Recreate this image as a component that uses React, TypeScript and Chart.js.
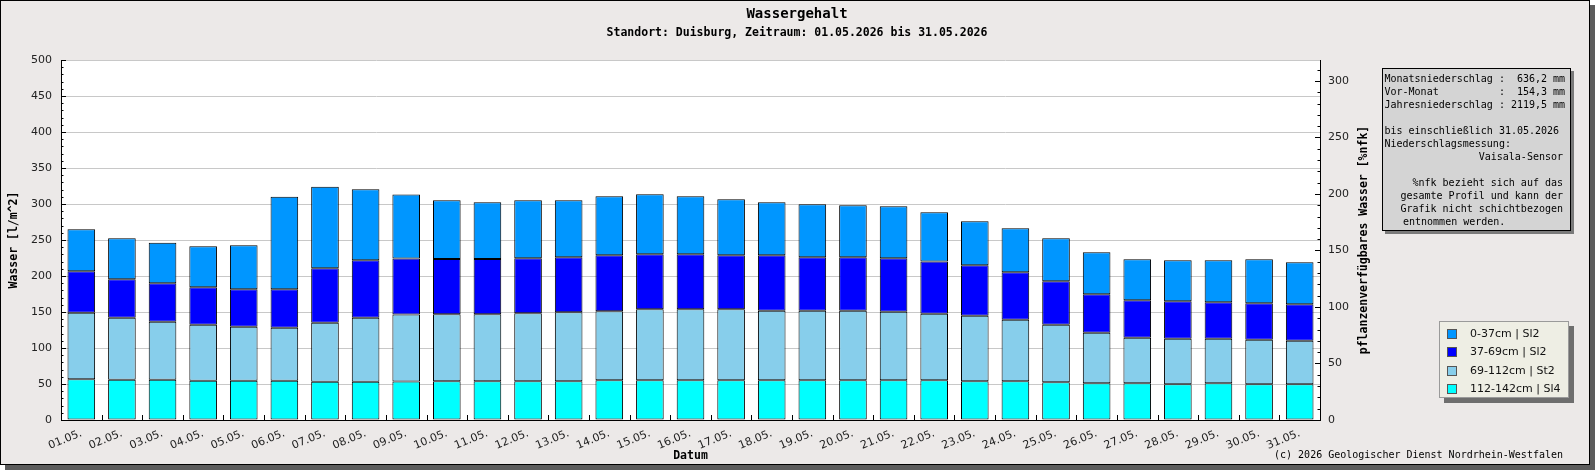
import React, { useEffect, useRef } from 'react';
import Chart from 'chart.js/auto';

// Tageswerte Mai 2026, Standort Duisburg (Wasser in l/m^2 je Schicht)
const dayLabels = [
  '01.05.', '02.05.', '03.05.', '04.05.', '05.05.', '06.05.', '07.05.', '08.05.',
  '09.05.', '10.05.', '11.05.', '12.05.', '13.05.', '14.05.', '15.05.', '16.05.',
  '17.05.', '18.05.', '19.05.', '20.05.', '21.05.', '22.05.', '23.05.', '24.05.',
  '25.05.', '26.05.', '27.05.', '28.05.', '29.05.', '30.05.', '31.05.',
];

const layer112to142 = [
  56.5, 56, 56, 54.6, 54.6, 54.6, 53.2, 53.2, 53.5, 53.7, 53.7, 53.7, 53.7, 55.1, 55.1, 55.1,
  55.1, 55.1, 55.1, 55.1, 55.1, 55.1, 53.7, 53.7, 52.3, 50.9, 50.9, 49.5, 50.9, 49.5, 49.5,
];
const layer69to112 = [
  92.5, 86.1, 80.6, 77.8, 75, 73.6, 82, 88.9, 93, 93.1, 93.1, 94.4, 95.8, 95.8, 98.6, 98.6,
  98.6, 96.8, 96.8, 96.8, 95.4, 92.6, 91.2, 85.7, 80.1, 70.4, 63.5, 63.5, 62.1, 62.1, 60.6,
];
const layer37to69 = [
  57.5, 53.3, 53.2, 51.9, 51.9, 53.3, 75.4, 79.7, 77.9, 76.8, 76.8, 76.4, 76.4, 77.8, 76.4, 76.4,
  75, 76.8, 74, 74, 74, 72.6, 69.9, 65.7, 60.2, 53.2, 51.8, 51.8, 50.4, 50.4, 50.5,
];
const layer0to37 = [
  58.5, 56.9, 56.5, 56.9, 61.1, 128.7, 113.4, 98.6, 88.9, 81.5, 78.7, 80.6, 79.2, 81.9, 83.3, 80.5,
  77.8, 73.6, 73.6, 72.2, 72.3, 68.1, 61.2, 61.1, 59.7, 58.4, 57, 57, 58.4, 61.2, 58.4,
];

const legendLabels = ['0-37cm | Sl2', '37-69cm | Sl2', '69-112cm | St2', '112-142cm | Sl4'];
const legendColors = ['#0096ff', '#0000ff', '#87ceeb', '#00ffff'];

const infoHead = [
  'Monatsniederschlag :  636,2 mm',
  'Vor-Monat          :  154,3 mm',
  'Jahresniederschlag : 2119,5 mm',
  '',
  'bis einschließlich 31.05.2026',
  'Niederschlagsmessung:',
];
const infoSensor = 'Vaisala-Sensor';
const infoNote = [
  '%nfk bezieht sich auf das',
  'gesamte Profil und kann der',
  'Grafik nicht schichtbezogen',
];
const infoNoteLast = 'entnommen werden.';

const MONO = '"DejaVu Sans Mono", monospace';
const SANS = '"DejaVu Sans", sans-serif';

const decor = {
  id: 'decor',
  beforeDraw(chart: any) {
    const { ctx, chartArea: a, width, height } = chart;
    ctx.save();
    ctx.fillStyle = '#ffffff';
    ctx.fillRect(0, 0, width, height);
    ctx.fillStyle = '#5c5c5c';
    ctx.fillRect(5, 5, width - 5, height - 5);
    ctx.fillStyle = '#ece9e8';
    ctx.fillRect(0, 0, width - 5, height - 5);
    ctx.strokeStyle = '#000';
    ctx.lineWidth = 1;
    ctx.strokeRect(0.5, 0.5, width - 6, height - 6);
    ctx.fillStyle = '#ffffff';
    ctx.fillRect(a.left, a.top, a.right - a.left, a.bottom - a.top);
    ctx.restore();
  },
  afterDraw(chart: any) {
    const { ctx, chartArea: a, scales } = chart;
    const y = scales.y;
    const y1 = scales.y1;
    const x = scales.x;
    ctx.save();
    ctx.strokeStyle = '#000';
    ctx.lineWidth = 1;

    // Striche an den Achsen (nach innen)
    ctx.beginPath();
    for (let v = 0; v <= 500; v += 10) {
      const py = Math.round(y.getPixelForValue(v)) + 0.5;
      const len = v % 50 === 0 ? 5 : 2.5;
      ctx.moveTo(a.left, py);
      ctx.lineTo(a.left + len, py);
    }
    for (let v = 0; v <= 310; v += 10) {
      const py = Math.round(y1.getPixelForValue(v)) + 0.5;
      const len = v % 50 === 0 ? 5 : 2.5;
      ctx.moveTo(a.right, py);
      ctx.lineTo(a.right - len, py);
    }
    const half = (x.getPixelForValue(1) - x.getPixelForValue(0)) / 2;
    for (let i = 1; i < dayLabels.length; i++) {
      const px = Math.round(x.getPixelForValue(i) - half) + 0.5;
      ctx.moveTo(px, a.bottom);
      ctx.lineTo(px, a.bottom - 5);
    }
    ctx.stroke();

    // Titel
    ctx.fillStyle = '#000';
    ctx.textAlign = 'center';
    ctx.textBaseline = 'middle';
    ctx.font = `bold 14px ${MONO}`;
    ctx.fillText('Wassergehalt', 797, 14);
    ctx.font = `bold 11.5px ${MONO}`;
    ctx.fillText('Standort: Duisburg, Zeitraum: 01.05.2026 bis 31.05.2026', 797, 33);

    // Achsentitel
    ctx.font = `bold 11.5px ${MONO}`;
    ctx.fillText('Datum', (a.left + a.right) / 2, 456);
    ctx.save();
    ctx.translate(14, (a.top + a.bottom) / 2);
    ctx.rotate(-Math.PI / 2);
    ctx.fillText('Wasser [l/m^2]', 0, 0);
    ctx.restore();
    ctx.save();
    ctx.translate(1364, (a.top + a.bottom) / 2);
    ctx.rotate(-Math.PI / 2);
    ctx.fillText('pflanzenverfügbares Wasser [%nfk]', 0, 0);
    ctx.restore();

    // Copyright
    ctx.font = `10px ${MONO}`;
    ctx.textAlign = 'right';
    ctx.fillText('(c) 2026 Geologischer Dienst Nordrhein-Westfalen', 1563, 455);

    // Infokasten
    ctx.fillStyle = '#7a7a7a';
    ctx.fillRect(1385, 71, 189, 163);
    ctx.fillStyle = '#d4d4d4';
    ctx.fillRect(1382, 68, 189, 163);
    ctx.strokeStyle = '#000';
    ctx.strokeRect(1382.5, 68.5, 188, 162);
    ctx.fillStyle = '#000';
    ctx.font = `10px ${MONO}`;
    ctx.textAlign = 'left';
    infoHead.forEach((t, i) => ctx.fillText(t, 1384.5, 79.5 + i * 13));
    ctx.textAlign = 'right';
    ctx.fillText(infoSensor, 1563, 79.5 + 6 * 13);
    infoNote.forEach((t, i) => ctx.fillText(t, 1563, 79.5 + (8 + i) * 13));
    ctx.textAlign = 'left';
    ctx.fillText(infoNoteLast, 1403, 79.5 + 11 * 13);

    // Legende
    ctx.fillStyle = '#6e6e6e';
    ctx.fillRect(1444, 326, 130, 77);
    ctx.fillStyle = '#eeeee4';
    ctx.fillRect(1439, 321, 130, 77);
    ctx.strokeStyle = '#9a9a9a';
    ctx.strokeRect(1439.5, 321.5, 129, 76);
    ctx.font = `11px ${SANS}`;
    ctx.textAlign = 'left';
    legendLabels.forEach((t, i) => {
      const cy = 333.5 + i * 18.5;
      ctx.fillStyle = legendColors[i];
      ctx.fillRect(1447, Math.round(cy - 5), 10, 10);
      ctx.strokeStyle = '#555';
      ctx.strokeRect(1447.5, Math.round(cy - 5) + 0.5, 9, 9);
      ctx.fillStyle = '#111';
      ctx.fillText(t, 1470, cy + 0.5);
    });
    ctx.restore();
  },
};

const WassergehaltChart: React.FC = () => {
  const canvasRef = useRef<HTMLCanvasElement | null>(null);
  const chartRef = useRef<Chart<'bar'> | null>(null);

  useEffect(() => {
    document.body.style.margin = '0';
    const ctx = canvasRef.current?.getContext('2d');
    if (!ctx) return;

    const bar = (label: string, data: number[], color: string) => ({
      label,
      data,
      backgroundColor: color,
      borderColor: '#000',
      borderWidth: 1,
      borderSkipped: false as const,
      barPercentage: 0.68,
      categoryPercentage: 1,
    });

    chartRef.current = new Chart(ctx, {
      type: 'bar',
      data: {
        labels: dayLabels,
        datasets: [
          bar('112-142cm | Sl4', layer112to142, '#00ffff'),
          bar('69-112cm | St2', layer69to112, '#87ceeb'),
          bar('37-69cm | Sl2', layer37to69, '#0000ff'),
          bar('0-37cm | Sl2', layer0to37, '#0096ff'),
        ],
      },
      options: {
        animation: false,
        responsive: false,
        devicePixelRatio: 1,
        layout: { padding: { top: 60, left: 0, right: 0, bottom: 0 } },
        plugins: {
          legend: { display: false },
          title: { display: false },
          tooltip: { enabled: false },
        },
        scales: {
          x: {
            stacked: true,
            grid: { display: false, drawTicks: false },
            border: { display: true, color: '#000', width: 1 },
            ticks: {
              color: '#222',
              font: { family: 'DejaVu Sans', size: 11 },
              minRotation: 22,
              maxRotation: 22,
              padding: 7,
              autoSkip: false,
            },
            afterFit: (s: any) => { s.height = 50; },
          },
          y: {
            stacked: true,
            position: 'left',
            min: 0,
            max: 500,
            ticks: {
              stepSize: 50,
              color: '#222',
              font: { family: 'DejaVu Sans', size: 11 },
              padding: 9,
            },
            grid: { color: '#c8c8c8', lineWidth: 1, drawTicks: false },
            border: { display: true, color: '#000', width: 1 },
            afterFit: (s: any) => { s.width = 61; },
          },
          y1: {
            display: true,
            position: 'right',
            min: 0,
            max: 318.5,
            ticks: {
              stepSize: 50,
              color: '#222',
              font: { family: 'DejaVu Sans', size: 11 },
              padding: 8,
            },
            afterBuildTicks: (s: any) => {
              s.ticks = s.ticks.filter((t: any) => t.value % 50 === 0);
            },
            grid: { display: false, drawTicks: false },
            border: { display: true, color: '#000', width: 1 },
            afterFit: (s: any) => { s.width = 275; },
          },
        },
      },
      plugins: [decor],
    });

    return () => {
      if (chartRef.current) {
        chartRef.current.destroy();
        chartRef.current = null;
      }
    };
  }, []);

  return (
    <div style={{ width: 1595, height: 470 }}>
      <canvas ref={canvasRef} width={1595} height={470} style={{ display: 'block' }} />
    </div>
  );
};

export default function App() {
  return <WassergehaltChart />;
}
